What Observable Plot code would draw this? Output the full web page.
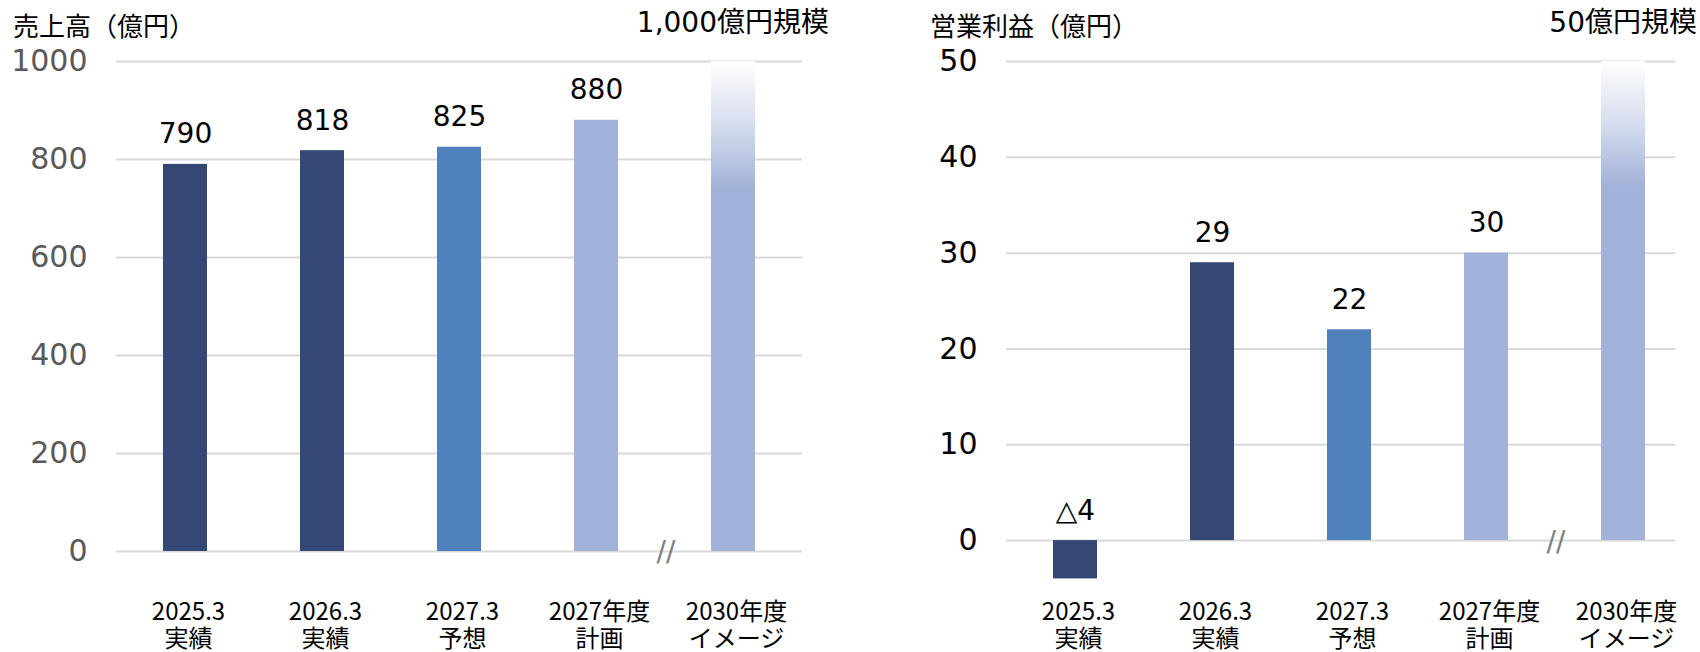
<!DOCTYPE html>
<html><head><meta charset="utf-8">
<script src="https://cdn.jsdelivr.net/npm/d3@7"></script>
<script src="https://cdn.jsdelivr.net/npm/@observablehq/plot@0.6"></script>
<style>
body{margin:0;background:#fff;}
#wrap{position:relative;width:1700px;height:652px;display:flex;font-family:"DejaVu Sans","Noto Sans CJK JP",sans-serif;}
.panel{position:relative;width:850px;height:652px;overflow:hidden;}
.panel svg{position:absolute;left:0;top:0;}
.title{position:absolute;top:12px;font-family:"Noto Sans CJK JP",sans-serif;font-size:26px;line-height:1;color:#000;white-space:nowrap;}
.note{position:absolute;top:9px;font-family:"DejaVu Sans","Noto Sans CJK JP",sans-serif;font-size:28px;line-height:1;color:#000;white-space:nowrap;}
</style></head><body>
<div id="wrap">
  <div class="panel" id="left"><div class="title" style="left:13px">売上高（億円）</div><div class="note" style="right:21px">1,000億円規模</div></div>
  <div class="panel" id="right"><div class="title" style="left:80px">営業利益（億円）</div><div class="note" style="right:3px">50億円規模</div></div>
</div>
<script>
// ---- data ----
const categories = ["2025.3\n実績", "2026.3\n実績", "2027.3\n予想", "2027年度\n計画", "2030年度\nイメージ"];
const salesValues = [790, 818, 825, 880, 1000];
const profitValues = [-4, 29, 22, 30, 50];
const salesTicks = [0, 200, 400, 600, 800, 1000];
const profitTicks = [0, 10, 20, 30, 40, 50];
const showValueLabel = [true, true, true, true, false];
const breakAfter = categories[3];

// ---- styles ----
const barColors = ["#344775", "#344775", "#4F81BD", "#A2B2D8", null];
const FONT = '"DejaVu Sans","Noto Sans CJK JP",sans-serif';
const CJK = '"Noto Sans CJK JP",sans-serif';
const fmt = v => v < 0 ? "△" + (-v) : String(v);

function chart(o) {
  const data = categories.map((c, i) => ({
    cat: c,
    value: o.values[i],
    fill: barColors[i] || `url(#${o.gradId})`,
    label: showValueLabel[i] ? fmt(o.values[i]) : null
  }));
  const step = (o.xRange[1] - o.xRange[0]) / categories.length;
  const svg = Plot.plot({
    width: 850, height: 652,
    marginTop: o.marginTop, marginBottom: o.marginBottom,
    marginLeft: o.marginLeft, marginRight: o.marginRight,
    style: {fontFamily: FONT, fontSize: "24px", background: "transparent", color: "#000"},
    x: {domain: categories, range: o.xRange, paddingInner: 0.68, paddingOuter: 0.34, axis: null},
    y: {domain: o.yDomain, axis: null},
    color: {type: "identity"},
    marks: [
      Plot.gridY(o.ticks, {stroke: "#d9d9d9", strokeOpacity: 1, strokeWidth: 2}),
      Plot.axisY(o.ticks, {tickSize: 0, tickPadding: 29, fontSize: 30, color: o.tickColor, tickFormat: d => String(d)}),
      Plot.barY(data, {x: "cat", y: "value", fill: "fill"}),
      Plot.text(data.filter(d => d.label), {x: "cat", y: d => Math.max(0, d.value), text: "label", dy: -30, fontSize: 28, fill: "#000"}),
      Plot.text(data, {x: "cat", text: "cat", frameAnchor: "bottom", dy: o.labelDy, dx: 3, fontSize: 24, fontFamily: CJK, lineHeight: 1.1, fill: "#000"}),
      Plot.text([{cat: breakAfter, v: 0}], {x: "cat", y: "v", text: () => "//", dx: step / 2 + 1, dy: 1, fontSize: 28, fill: "#7f7f7f"})
    ]
  });
  const ns = "http://www.w3.org/2000/svg";
  const defs = document.createElementNS(ns, "defs");
  defs.innerHTML = `<linearGradient id="${o.gradId}" x1="0" y1="0" x2="0" y2="1">
      <stop offset="0" stop-color="#ffffff"/>
      <stop offset="0.13" stop-color="#d6ddee"/>
      <stop offset="0.26" stop-color="#A2B2D8"/>
      <stop offset="1" stop-color="#A2B2D8"/>
    </linearGradient>`;
  svg.prepend(defs);
  return svg;
}

document.getElementById("left").prepend(chart({
  values: salesValues, ticks: salesTicks, yDomain: [0, 1000],
  marginTop: 61, marginBottom: 101, marginLeft: 116, marginRight: 48,
  xRange: [116.5, 801.5], gradId: "gradL", tickColor: "#595959", labelDy: 95
}));
document.getElementById("right").prepend(chart({
  values: profitValues, ticks: profitTicks, yDomain: [-5, 50],
  marginTop: 61, marginBottom: 64, marginLeft: 156, marginRight: 25,
  xRange: [156.5, 841.5], gradId: "gradR", tickColor: "#000", labelDy: 58
}));
</script>
</body></html>
